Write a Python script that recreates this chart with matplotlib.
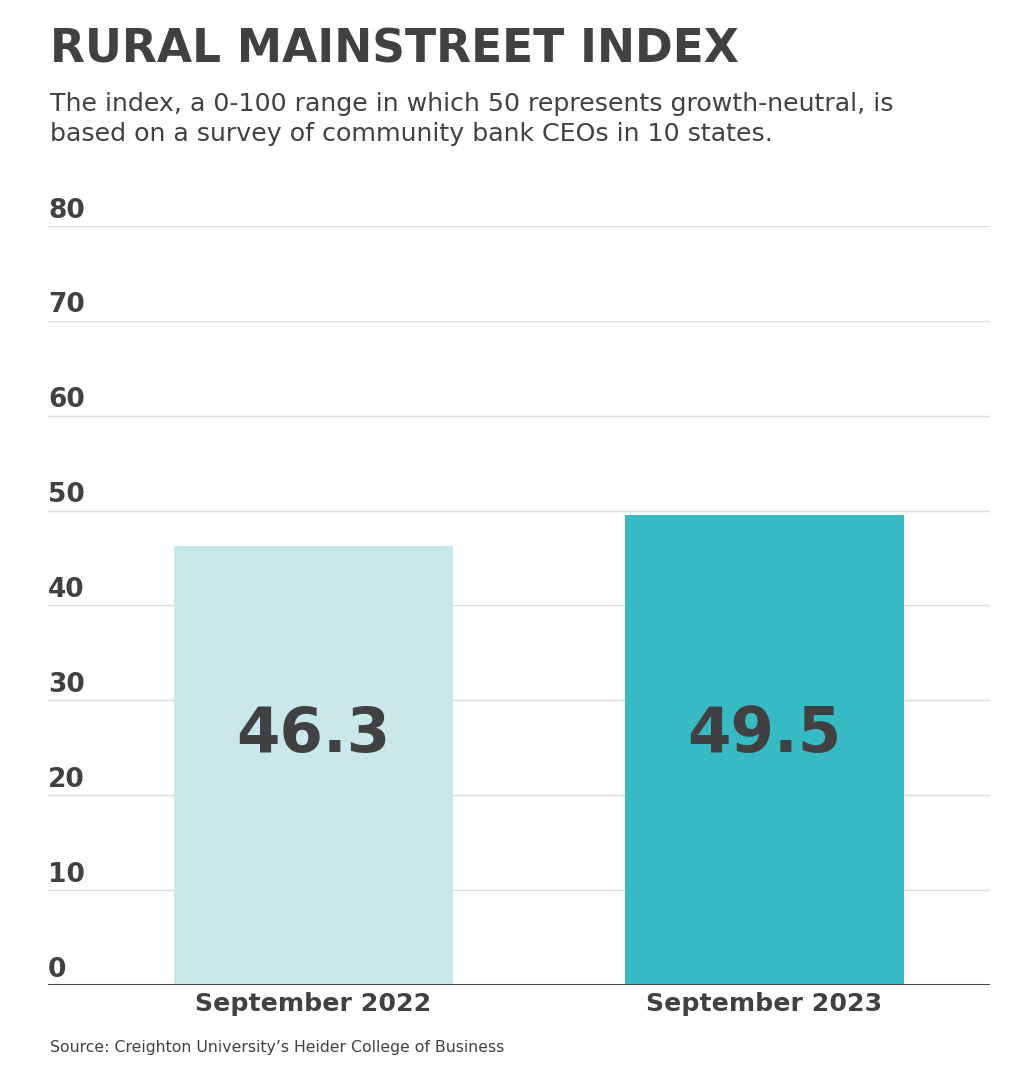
import matplotlib.pyplot as plt
import numpy as np

# Data
categories = ["September 2022", "September 2023"]
values = [46.3, 49.5]
bar_colors = ["#c8e8ea", "#36bac3"]
yticks = [0, 10, 20, 30, 40, 50, 60, 70, 80]

text_color = "#414141"
plt.rcParams['font.family'] = ['DejaVu Sans']

fig = plt.figure(figsize=(10.23, 10.73), dpi=100)
ax = fig.add_axes([0.0469, 0.0820, 0.9208, 0.7074])

x = np.arange(len(categories))
ax.bar(x, values, width=0.619, color=bar_colors, zorder=2)

# Value labels inside the bars
for xi, v in zip(x, values):
    ax.text(xi, 26.3, f"{v:.1f}", ha="center", va="center",
            fontsize=45, fontweight="bold", color=text_color, zorder=3)

ax.set_xlim(-0.589, 1.5)
ax.set_ylim(0, 80)

# Gridlines and tick labels sitting above the lines
for t in yticks[1:]:
    ax.axhline(t, color="#dddddd", linewidth=1, zorder=1)
for t in yticks:
    ax.text(0, t + 0.25, str(t), transform=ax.get_yaxis_transform(),
            ha="left", va="bottom", fontsize=19, fontweight="bold", color=text_color)
ax.axhline(0, color="#444444", linewidth=2.2, zorder=4)

ax.set_yticks([])
ax.set_xticks(x)
ax.set_xticklabels(categories, fontsize=18.2, fontweight="bold", color=text_color)
ax.tick_params(axis="x", length=0, pad=5)
for s in ax.spines.values():
    s.set_visible(False)

fig.text(0.049, 0.953, "RURAL MAINSTREET INDEX", ha="left", va="center",
         fontsize=32.8, fontweight="bold", color=text_color)
fig.text(0.049, 0.889,
         "The index, a 0-100 range in which 50 represents growth-neutral, is\n"
         "based on a survey of community bank CEOs in 10 states.",
         ha="left", va="center", fontsize=18.2, color=text_color, linespacing=1.32)
fig.text(0.049, 0.024, "Source: Creighton University\u2019s Heider College of Business",
         ha="left", va="center", fontsize=11.3, color=text_color)

fig.savefig("out.png", dpi=100)
